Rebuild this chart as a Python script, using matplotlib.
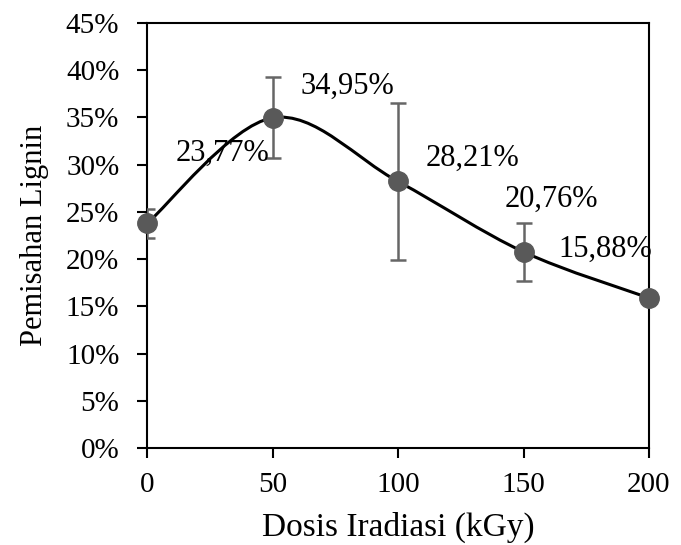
import matplotlib
matplotlib.use("Agg")
from matplotlib import pyplot as plt
from matplotlib.path import Path
from matplotlib.patches import PathPatch
from matplotlib.ticker import FuncFormatter

plt.rcParams['font.family'] = ['Liberation Serif', 'DejaVu Serif']

# data
dose = [0, 50, 100, 150, 200]
lignin = [23.77, 34.95, 28.21, 20.76, 15.88]
err = [1.5, 4.3, 8.3, 3.05, 0.0]
labels = ['23,77%', '34,95%', '28,21%', '20,76%', '15,88%']
label_pos = [(30, 31.2), (80, 38.3), (129.5, 30.7), (161, 26.3), (182.5, 21.0)]

fig = plt.figure(figsize=(6.81, 5.45), dpi=100)
ax = fig.add_axes([0.216, 0.178, 0.737, 0.780])

# smoothed line (Excel style bezier through the points)
pts = list(zip(dose, lignin))
verts = [pts[0]]
codes = [Path.MOVETO]
n = len(pts)
for i in range(n - 1):
    p0 = pts[i - 1] if i > 0 else pts[i]
    p1 = pts[i]
    p2 = pts[i + 1]
    p3 = pts[i + 2] if i + 2 < n else pts[i + 1]
    c1 = (p1[0] + (p2[0] - p0[0]) / 6, p1[1] + (p2[1] - p0[1]) / 6)
    c2 = (p2[0] - (p3[0] - p1[0]) / 6, p2[1] - (p3[1] - p1[1]) / 6)
    verts += [c1, c2, p2]
    codes += [Path.CURVE4] * 3
ax.add_patch(PathPatch(Path(verts, codes), facecolor='none', edgecolor='black', lw=2.2, zorder=2))

ax.errorbar(dose, lignin, yerr=err, fmt='none', ecolor='#666666', elinewidth=1.8,
            capsize=5.5, capthick=1.8, zorder=3)
ax.plot(dose, lignin, 'o', color='#595959', markersize=14, zorder=4, clip_on=False)

for (x, y), t in zip(label_pos, labels):
    ax.text(x, y, t, fontsize=22, ha='center', va='center', zorder=5)

ax.set_xlim(0, 200)
ax.set_ylim(0, 45)
ax.set_xticks([0, 50, 100, 150, 200])
ax.set_yticks(range(0, 46, 5))
ax.yaxis.set_major_formatter(FuncFormatter(lambda v, p: f'{int(v)}%'))
ax.tick_params(direction='out', length=7, width=1.5, labelsize=21)
ax.tick_params(axis='x', pad=10)
ax.tick_params(axis='y', pad=13)
for s in ax.spines.values():
    s.set_linewidth(1.5)

ax.set_xlabel('Dosis Iradiasi (kGy)', fontsize=24, labelpad=10)
ax.set_ylabel('Pemisahan Lignin', fontsize=22, labelpad=12)

fig.savefig('out.png', dpi=100)
